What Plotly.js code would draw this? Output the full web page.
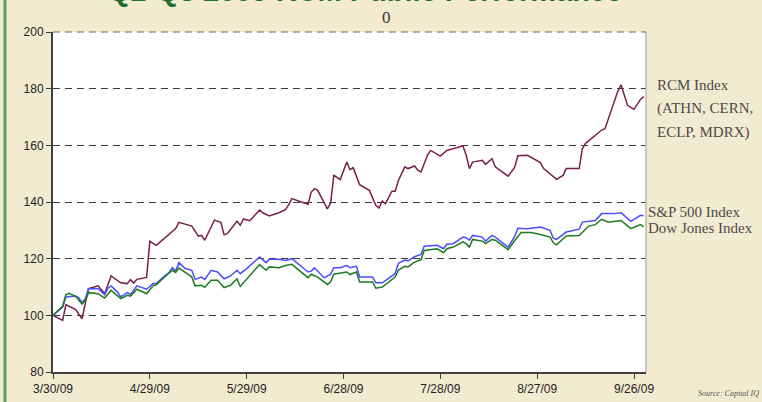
<!DOCTYPE html>
<html>
<head>
<meta charset="utf-8">
<script src="https://cdn.plot.ly/plotly-3.0.1.min.js"></script>
<style>
html,body{margin:0;padding:0;background:#F3EBD0;}
#chart{width:762px;height:402px;}
</style>
</head>
<body>
<div id="chart"></div>
<script>
// ---- Data ----
const rcmDates = ["2009-03-30","2009-04-02","2009-04-03","2009-04-06","2009-04-08","2009-04-10","2009-04-13","2009-04-15","2009-04-17","2009-04-20","2009-04-22","2009-04-23","2009-04-24","2009-04-25","2009-04-28","2009-04-29","2009-05-01","2009-05-07","2009-05-08","2009-05-12","2009-05-14","2009-05-15","2009-05-16","2009-05-19","2009-05-21","2009-05-22","2009-05-23","2009-05-26","2009-05-27","2009-05-28","2009-05-30","2009-06-02","2009-06-03","2009-06-05","2009-06-08","2009-06-10","2009-06-11","2009-06-12","2009-06-17","2009-06-18","2009-06-19","2009-06-20","2009-06-23","2009-06-24","2009-06-25","2009-06-27","2009-06-29","2009-06-30","2009-07-01","2009-07-03","2009-07-06","2009-07-08","2009-07-09","2009-07-10","2009-07-11","2009-07-13","2009-07-14","2009-07-15","2009-07-17","2009-07-18","2009-07-20","2009-07-21","2009-07-22","2009-07-24","2009-07-25","2009-07-28","2009-07-30","2009-07-31","2009-08-04","2009-08-05","2009-08-06","2009-08-07","2009-08-10","2009-08-11","2009-08-13","2009-08-14","2009-08-18","2009-08-20","2009-08-21","2009-08-24","2009-08-26","2009-08-28","2009-08-29","2009-08-31","2009-09-02","2009-09-04","2009-09-05","2009-09-09","2009-09-10","2009-09-11","2009-09-14","2009-09-16","2009-09-17","2009-09-19","2009-09-21","2009-09-22","2009-09-24","2009-09-26","2009-09-28","2009-09-29"];
const rcmValues = [100,98.2,103.8,102,98.8,109.4,110.4,107.6,113.9,111.5,111.2,112.6,111.4,112.7,113.4,126.1,124.7,130.6,132.8,131.5,128,128.2,126.5,133.6,132.8,128.4,128.8,133.2,131.8,134,133.4,137.2,136.2,135.1,136.2,137.3,139,141.2,139.2,143.5,144.7,144.1,137.6,139.6,149.4,147.9,154.1,151.4,152.1,146.1,144.1,138.8,137.9,140.4,139.4,143.8,143.8,147.6,152.4,151.8,152.7,151.2,150.6,156.5,158.2,156.2,158.2,158.5,159.8,156.5,151.8,154.1,154.7,153.3,155.3,152.4,149.1,152.2,156.3,156.5,155.3,153.9,151.8,149.8,148,149.4,151.8,151.8,158.8,160.7,163.5,165.4,165.9,172.9,179.2,181.3,174.1,172.7,176.2,177.2];

const spDates = ["2009-03-30","2009-04-02","2009-04-03","2009-04-06","2009-04-07","2009-04-08","2009-04-09","2009-04-10","2009-04-13","2009-04-15","2009-04-16","2009-04-17","2009-04-19","2009-04-20","2009-04-22","2009-04-23","2009-04-25","2009-04-28","2009-04-30","2009-05-01","2009-05-03","2009-05-05","2009-05-06","2009-05-07","2009-05-08","2009-05-10","2009-05-12","2009-05-13","2009-05-15","2009-05-16","2009-05-18","2009-05-20","2009-05-22","2009-05-24","2009-05-26","2009-05-27","2009-05-29","2009-05-31","2009-06-02","2009-06-04","2009-06-05","2009-06-08","2009-06-10","2009-06-12","2009-06-17","2009-06-18","2009-06-19","2009-06-22","2009-06-24","2009-06-25","2009-06-27","2009-06-29","2009-06-30","2009-07-02","2009-07-03","2009-07-07","2009-07-08","2009-07-10","2009-07-14","2009-07-15","2009-07-17","2009-07-18","2009-07-20","2009-07-22","2009-07-23","2009-07-27","2009-07-29","2009-07-30","2009-08-01","2009-08-04","2009-08-05","2009-08-06","2009-08-07","2009-08-10","2009-08-11","2009-08-13","2009-08-14","2009-08-18","2009-08-20","2009-08-21","2009-08-24","2009-08-28","2009-08-31","2009-09-01","2009-09-02","2009-09-05","2009-09-09","2009-09-10","2009-09-14","2009-09-16","2009-09-20","2009-09-22","2009-09-25","2009-09-28","2009-09-29"];
const spValues = [100,102.9,106.5,106.8,106.2,104.5,105.9,109.4,109.4,107.3,109.6,110.4,108.2,106.5,108,107.4,110.4,109.2,111.2,111.2,113.3,115.2,116.8,115.6,118.6,116.5,115.9,112.7,113.5,112.7,115.9,115.3,112.9,113.9,115.9,114.7,116.5,118.6,120.6,118.6,119.8,119.8,119.4,120,115.3,115.6,116.8,113.2,114.5,116.8,116.8,117.6,116.8,117.3,113.5,113.5,111.5,111.5,114.7,118.4,119.5,119.2,120.7,121.5,124.4,124.7,123.5,125.1,125.3,127.6,127.4,126.5,128.2,127.6,126.2,128.2,127.6,124.1,127.8,130.7,130.6,131.2,130,127.2,126.8,129.4,130.4,132.9,133.5,135.9,135.9,136.2,133.2,135.3,135.1];

const djDates = ["2009-03-30","2009-04-02","2009-04-03","2009-04-04","2009-04-06","2009-04-08","2009-04-09","2009-04-10","2009-04-13","2009-04-15","2009-04-17","2009-04-18","2009-04-20","2009-04-22","2009-04-23","2009-04-25","2009-04-28","2009-04-30","2009-05-01","2009-05-03","2009-05-05","2009-05-06","2009-05-07","2009-05-08","2009-05-11","2009-05-12","2009-05-13","2009-05-15","2009-05-16","2009-05-18","2009-05-20","2009-05-22","2009-05-24","2009-05-26","2009-05-27","2009-05-31","2009-06-02","2009-06-04","2009-06-05","2009-06-08","2009-06-10","2009-06-12","2009-06-17","2009-06-18","2009-06-20","2009-06-23","2009-06-24","2009-06-25","2009-06-29","2009-06-30","2009-07-02","2009-07-03","2009-07-07","2009-07-08","2009-07-10","2009-07-14","2009-07-15","2009-07-17","2009-07-18","2009-07-20","2009-07-22","2009-07-23","2009-07-27","2009-07-29","2009-07-30","2009-08-01","2009-08-04","2009-08-05","2009-08-06","2009-08-07","2009-08-10","2009-08-11","2009-08-13","2009-08-14","2009-08-18","2009-08-20","2009-08-22","2009-08-25","2009-08-27","2009-08-31","2009-09-01","2009-09-02","2009-09-05","2009-09-09","2009-09-12","2009-09-14","2009-09-16","2009-09-18","2009-09-20","2009-09-22","2009-09-25","2009-09-28","2009-09-29"];
const djValues = [100,103.3,107.3,107.8,106.7,104,105.3,108,107.6,106.1,108.8,107.9,105.9,107.1,106.8,109.2,107.6,110.4,110.8,112.9,114.7,115.9,115.1,116.7,114.4,113.5,110.4,110.6,109.9,112.4,112.4,109.8,110.6,112.9,110.2,115.3,117.9,115.9,117.1,116.8,117.6,118,113.3,114.5,113.5,110.9,111.8,114.5,115.3,114.4,115.3,111.8,111.8,109.6,110,113.5,116,117.3,117.1,118.8,119.6,122.9,123.5,122.1,123.5,124.1,125.9,125.3,124.1,126.8,126.2,125.3,126.8,126.5,123.2,126.3,129.2,129.2,128.8,127.6,125.6,124.9,128,128.2,131.5,132,133.9,132.9,133.2,133.5,130.6,132,131.2];

const tickDates = ["2009-03-30","2009-04-29","2009-05-29","2009-06-28","2009-07-28","2009-08-27","2009-09-26"];
const tickLabels = ["3/30/09","4/29/09","5/29/09","6/28/09","7/28/09","8/27/09","9/26/09"];
const yTicks = [80,100,120,140,160,180,200];

// ---- Chart ----
const traces = [
  {x: rcmDates, y: rcmValues, type: "scatter", mode: "lines", name: "RCM Index",
   line: {color: "#7A1E4E", width: 1.5}},
  {x: spDates, y: spValues, type: "scatter", mode: "lines", name: "S&P 500 Index",
   line: {color: "#4B4BFF", width: 1.5}},
  {x: djDates, y: djValues, type: "scatter", mode: "lines", name: "Dow Jones Index",
   line: {color: "#1E7B1E", width: 1.5}}
];

const serif = "Liberation Serif, Times New Roman, serif";
const labelFont = {family: serif, size: 15, color: "#4a4a4a"};

const layout = {
  width: 762, height: 402,
  margin: {l: 53, r: 116, t: 32, b: 30, pad: 0},
  paper_bgcolor: "#F3EBD0",
  plot_bgcolor: "#FFFFFF",
  showlegend: false,
  xaxis: {
    type: "date",
    range: ["2009-03-30", "2009-09-29 17:00"],
    tickmode: "array", tickvals: tickDates, ticktext: tickLabels,
    showgrid: false, zeroline: false,
    showline: true, linecolor: "#404040", linewidth: 2,
    ticks: "outside", ticklen: 5, tickcolor: "#404040", tickwidth: 1,
    tickfont: {family: "Liberation Sans, Arial, sans-serif", size: 12, color: "#222"}
  },
  yaxis: {
    range: [80, 200],
    tickmode: "array", tickvals: yTicks,
    showgrid: true, gridcolor: "#3a3a3a", gridwidth: 1, griddash: "7px,5px",
    zeroline: false,
    showline: true, linecolor: "#404040", linewidth: 2,
    ticks: "outside", ticklen: 5, tickcolor: "#404040", tickwidth: 1,
    tickfont: {family: "Liberation Sans, Arial, sans-serif", size: 12, color: "#222"}
  },
  shapes: [
    {type: "line", xref: "paper", yref: "paper", x0: 1, x1: 1, y0: 0, y1: 1,
     line: {color: "#B4B4B4", width: 1.5}},
    {type: "line", xref: "paper", yref: "paper", x0: 0, x1: 1, y0: 1, y1: 1,
     line: {color: "#6a6a6a", width: 1, dash: "7px,5px"}},
    {type: "line", xref: "paper", yref: "paper", x0: -0.081, x1: -0.081, y0: -0.1, y1: 1.12,
     line: {color: "#5A9C6C", width: 3}}
  ],
  annotations: [
    {text: "<b>Q2-Q3 2009 RCM Public Performance</b>", xref: "paper", yref: "paper",
     x: 0.526, y: 1.12, xanchor: "center", yanchor: "middle", showarrow: false,
     font: {family: "Liberation Sans, Arial, sans-serif", size: 29, color: "#1E6B35"}},
    {text: "0", xref: "paper", yref: "paper", x: 0.5616, y: 1.042,
     xanchor: "center", yanchor: "middle", showarrow: false,
     font: {family: serif, size: 17, color: "#333"}},
    {text: "RCM Index", xref: "paper", yref: "paper", x: 1.0152, y: 0.844,
     xanchor: "left", yanchor: "middle", showarrow: false, font: labelFont},
    {text: "(ATHN, CERN,", xref: "paper", yref: "paper", x: 1.0152, y: 0.774,
     xanchor: "left", yanchor: "middle", showarrow: false, font: labelFont},
    {text: "ECLP, MDRX)", xref: "paper", yref: "paper", x: 1.0152, y: 0.703,
     xanchor: "left", yanchor: "middle", showarrow: false, font: labelFont},
    {text: "S&P 500 Index", xref: "paper", yref: "paper", x: 1.0, y: 0.4706,
     xanchor: "left", yanchor: "middle", showarrow: false, font: labelFont},
    {text: "Dow Jones Index", xref: "paper", yref: "paper", x: 1.0, y: 0.4235,
     xanchor: "left", yanchor: "middle", showarrow: false, font: labelFont},
    {text: "<i>Source: Capital IQ</i>", xref: "paper", yref: "paper", x: 1.139, y: -0.062,
     xanchor: "center", yanchor: "middle", showarrow: false,
     font: {family: serif, size: 8, color: "#555"}}
  ]
};

Plotly.newPlot("chart", traces, layout, {displayModeBar: false, staticPlot: true});
</script>
</body>
</html>
